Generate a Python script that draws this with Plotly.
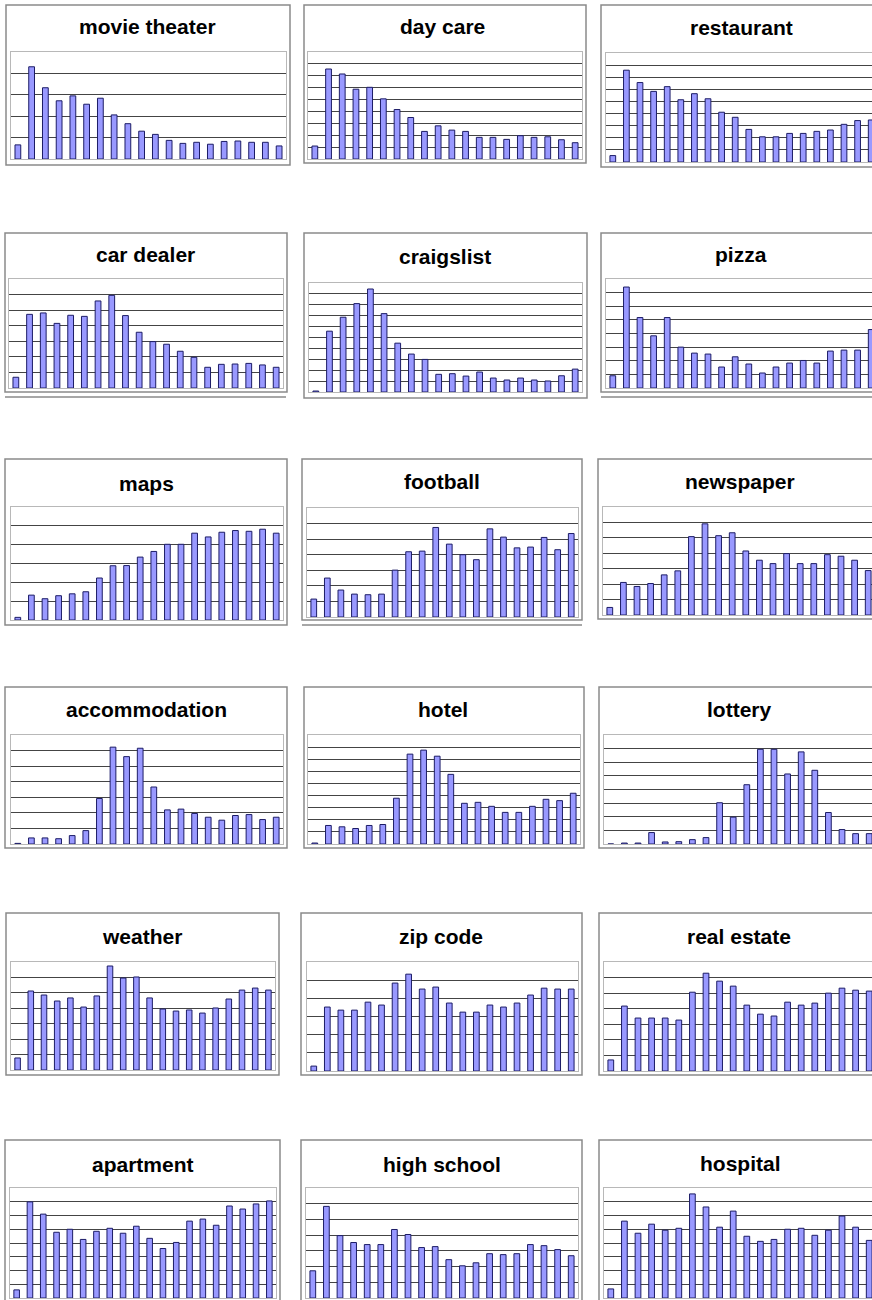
import plotly.graph_objects as go

W, H = 872, 1300

titles = ["movie theater", "day care", "restaurant",
          "car dealer", "craigslist", "pizza",
          "maps", "football", "newspaper",
          "accommodation", "hotel", "lottery",
          "weather", "zip code", "real estate",
          "apartment", "high school", "hospital"]

movie_theater = [0.66, 4.31, 3.33, 2.72, 2.95, 2.56, 2.84, 2.06, 1.65, 1.30, 1.15, 0.87, 0.73, 0.78, 0.69, 0.82, 0.84, 0.78, 0.78, 0.61]
day_care = [1.09, 7.57, 7.15, 5.87, 6.03, 5.06, 4.16, 3.49, 2.32, 2.79, 2.43, 2.32, 1.82, 1.82, 1.65, 1.96, 1.82, 1.87, 1.62, 1.37]
restaurant = [0.53, 7.58, 6.56, 5.83, 6.22, 5.14, 5.64, 5.22, 4.11, 3.69, 2.69, 2.08, 2.08, 2.36, 2.36, 2.53, 2.64, 3.11, 3.42, 3.47]
car_dealer = [0.69, 4.73, 4.82, 4.15, 4.67, 4.60, 5.59, 5.95, 4.65, 3.58, 2.98, 2.81, 2.36, 1.97, 1.33, 1.52, 1.54, 1.58, 1.48, 1.33]
craigslist = [0.09, 5.58, 6.86, 8.11, 9.45, 7.19, 4.48, 3.48, 2.99, 1.62, 1.68, 1.46, 1.83, 1.28, 1.10, 1.28, 1.10, 1.01, 1.49, 2.10]
pizza = [0.90, 7.41, 5.17, 3.83, 5.17, 3.00, 2.56, 2.49, 1.54, 2.29, 1.76, 1.10, 1.54, 1.83, 2.02, 1.83, 2.71, 2.78, 2.78, 4.29]
maps = [0.14, 1.32, 1.13, 1.29, 1.39, 1.50, 2.23, 2.88, 2.89, 3.34, 3.64, 4.02, 4.02, 4.61, 4.41, 4.66, 4.75, 4.71, 4.82, 4.61]
football = [1.15, 2.50, 1.73, 1.47, 1.43, 1.47, 3.01, 4.19, 4.23, 5.75, 4.68, 4.00, 3.68, 5.66, 5.13, 4.44, 4.49, 5.11, 4.32, 5.36]
newspaper = [0.49, 2.11, 1.85, 2.04, 2.60, 2.86, 5.08, 5.91, 5.14, 5.33, 4.15, 3.55, 3.33, 3.98, 3.33, 3.33, 3.91, 3.81, 3.55, 2.88]
accommodation = [0.04, 0.39, 0.39, 0.34, 0.54, 0.86, 2.92, 6.22, 5.61, 6.15, 3.66, 2.19, 2.24, 1.96, 1.72, 1.53, 1.83, 1.89, 1.57, 1.72]
hotel = [0.08, 1.53, 1.42, 1.28, 1.53, 1.61, 3.78, 7.42, 7.75, 7.25, 5.75, 3.36, 3.44, 3.11, 2.61, 2.61, 3.11, 3.69, 3.58, 4.19]
lottery = [0.0, 0.07, 0.07, 0.84, 0.15, 0.17, 0.32, 0.47, 3.03, 1.97, 4.35, 6.95, 6.95, 5.14, 6.76, 5.41, 2.31, 1.06, 0.76, 0.76]
weather = [0.78, 5.12, 4.86, 4.47, 4.67, 4.08, 4.80, 6.74, 5.96, 6.03, 4.67, 3.95, 3.82, 3.89, 3.69, 4.02, 4.60, 5.18, 5.31, 5.18]
zip_code = [0.27, 3.52, 3.35, 3.35, 3.79, 3.63, 4.84, 5.33, 4.51, 4.62, 3.74, 3.24, 3.24, 3.63, 3.52, 3.74, 4.18, 4.56, 4.51, 4.51]
real_estate = [0.71, 4.17, 3.40, 3.40, 3.40, 3.27, 5.06, 6.28, 5.77, 5.45, 4.23, 3.65, 3.53, 4.42, 4.23, 4.36, 5.00, 5.32, 5.19, 5.13]
apartment = [0.59, 6.99, 6.10, 4.78, 5.00, 4.26, 4.85, 5.07, 4.71, 5.22, 4.34, 3.60, 4.04, 5.59, 5.74, 5.29, 6.69, 6.47, 6.84, 7.06]
high_school = [1.73, 5.83, 3.97, 3.53, 3.40, 3.40, 4.36, 4.04, 3.21, 3.27, 2.44, 2.05, 2.24, 2.82, 2.76, 2.82, 3.40, 3.33, 3.08, 2.69]
hospital = [0.66, 5.59, 4.71, 5.37, 4.93, 5.07, 7.57, 6.62, 5.15, 6.32, 4.49, 4.12, 4.26, 5.00, 5.07, 4.56, 4.93, 5.96, 5.15, 4.19]

series = [movie_theater, day_care, restaurant, car_dealer, craigslist, pizza,
          maps, football, newspaper, accommodation, hotel, lottery,
          weather, zip_code, real_estate, apartment, high_school, hospital]

# number of gridline intervals in each panel's value axis
grid_units = [5, 9, 9, 7, 10, 8, 6, 7, 7, 7, 9, 8, 7, 6, 7, 8, 7, 8]

periods = list(range(20))

# ---- layout geometry (pixels) ----
boxes = [(6, 5, 290, 165), (304, 5, 586, 163), (601, 5, 890, 167),
         (5, 233, 287, 392), (304, 233, 587, 398), (601, 233, 890, 392),
         (5, 459, 287, 625), (302, 459, 582, 620), (598, 459, 890, 619),
         (5, 687, 287, 848), (304, 687, 584, 848), (599, 687, 890, 848),
         (6, 913, 279, 1075), (301, 913, 582, 1075), (599, 913, 890, 1075),
         (5, 1140, 280, 1320), (301, 1140, 582, 1320), (599, 1140, 890, 1320)]
plots = [(11, 52, 286, 159), (308, 52, 582, 159), (606, 53, 872, 162),
         (9, 279, 283, 388), (309, 283, 582, 392), (606, 279, 872, 388),
         (11, 507, 283, 620), (307, 508, 578, 617), (603, 507, 872, 615),
         (11, 735, 283, 844), (308, 735, 580, 844), (604, 735, 872, 844),
         (11, 962, 275, 1070), (307, 962, 578, 1071), (604, 962, 872, 1071),
         (10, 1188, 276, 1298), (306, 1188, 578, 1298), (604, 1188, 872, 1298)]
title_pos = [(147, 27), (442, 27), (741, 28),
             (145, 255), (445, 256), (741, 255),
             (146, 483), (442, 482), (740, 482),
             (146, 710), (443, 710), (739, 710),
             (142, 936), (441, 937), (739, 937),
             (143, 1164), (442, 1164), (740, 1163)]
extra_lines = [(5, 286, 397), (601, 890, 397), (302, 582, 625)]


def px(x):
    return x / W


def py(y):
    return 1 - y / H


fig = go.Figure()
layout = dict(width=W, height=H, margin=dict(l=0, r=0, t=0, b=0), autosize=False,
              paper_bgcolor="white", plot_bgcolor="white", showlegend=False)
shapes = []
annotations = []

for i, (title, vals, units) in enumerate(zip(titles, series, grid_units)):
    n = i + 1
    xa = "x" if n == 1 else f"x{n}"
    ya = "y" if n == 1 else f"y{n}"
    third_col = (i % 3 == 2)
    x0, y0, x1, y1 = plots[i]
    step = 13.6 if third_col else (x1 - x0) / 20
    rmax = -0.5 + (x1 - x0) / step if third_col else 19.5
    fig.add_trace(go.Bar(x=periods, y=vals, xaxis=xa, yaxis=ya, width=0.42,
                         marker=dict(color="#9999ff", line=dict(color="#1c1c66", width=1)),
                         hoverinfo="skip"))
    xkey = "xaxis" if n == 1 else f"xaxis{n}"
    ykey = "yaxis" if n == 1 else f"yaxis{n}"
    layout[xkey] = dict(domain=[px(x0), min(px(x1), 1.0)], anchor=ya, range=[-0.5, rmax],
                        showgrid=False, zeroline=False, showticklabels=False, ticks="",
                        showline=True, mirror=True, linecolor="#b8b8b8", linewidth=1,
                        fixedrange=True)
    layout[ykey] = dict(domain=[max(py(y1), 0.0), py(y0)], anchor=xa, range=[0, units],
                        dtick=1, tick0=0, showgrid=True, gridcolor="#444444", gridwidth=1,
                        zeroline=False, showticklabels=False, ticks="",
                        showline=True, mirror=(not third_col), linecolor="#b8b8b8", linewidth=1,
                        fixedrange=True)
    bx0, by0, bx1, by1 = boxes[i]
    shapes.append(dict(type="rect", xref="paper", yref="paper",
                       x0=px(bx0), x1=px(bx1), y0=py(by1), y1=py(by0),
                       line=dict(color="#8a8a8a", width=1.5), layer="below"))
    tx, ty = title_pos[i]
    annotations.append(dict(text=f"<b>{title}</b>", xref="paper", yref="paper",
                            x=px(tx), y=py(ty), xanchor="center", yanchor="middle",
                            showarrow=False,
                            font=dict(family="Liberation Sans, Arial, sans-serif",
                                      size=21, color="black")))

for lx0, lx1, ly in extra_lines:
    shapes.append(dict(type="line", xref="paper", yref="paper",
                       x0=px(lx0), x1=px(lx1), y0=py(ly), y1=py(ly),
                       line=dict(color="#8a8a8a", width=1.5)))

layout["shapes"] = shapes
layout["annotations"] = annotations
fig.update_layout(**layout)

fig.write_html("out.html", config={"displayModeBar": False},
               post_script="document.body.style.margin='0px';"
                           "document.documentElement.style.overflow='hidden';")
